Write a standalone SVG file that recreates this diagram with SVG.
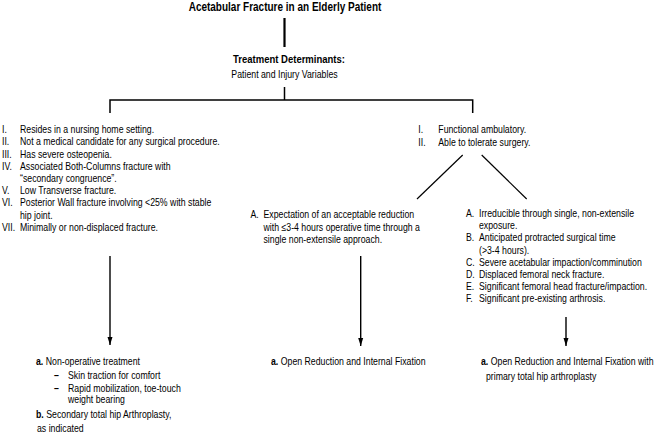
<svg xmlns="http://www.w3.org/2000/svg" width="656" height="442" viewBox="0 0 656 442">
<defs>
<style>
text{font-family:"Liberation Sans",Arial,sans-serif;font-size:10.67px;fill:#000}
.title{font-weight:bold;font-size:12.2px}
.hd{font-weight:bold;font-size:11.6px}
.b{font-weight:bold}
.dash{font-weight:bold}
.ln{stroke:#000;stroke-width:1.5;fill:none}
.dg{stroke:#000;stroke-width:1.2;fill:none}
.ar{stroke:#000;stroke-width:1.4;fill:none;marker-end:url(#ah)}
</style>
<marker id="ah" markerUnits="userSpaceOnUse" markerWidth="8" markerHeight="8" refX="4" refY="8" orient="0" viewBox="0 0 8 8">
<path d="M1.5,0 L6.5,0 L4,8 Z" fill="#000"/>
</marker>
</defs>
<rect width="656" height="442" fill="#fff"/>

<g id="connectors">
<line class="ln" x1="284.5" y1="18" x2="284.5" y2="47" style="stroke-width:2.2"/>
<line class="ln" x1="284.5" y1="87" x2="284.5" y2="100"/>
<path class="ln" d="M110,113 V100 H472.7 V113"/>
<line class="dg" x1="462.7" y1="155" x2="417" y2="199"/>
<line class="dg" x1="481.7" y1="155" x2="526.7" y2="199"/>
<line class="ar" x1="110" y1="256" x2="110" y2="345"/>
<line class="ar" x1="360.7" y1="256" x2="360.7" y2="346"/>
<line class="ar" x1="566" y1="317" x2="566" y2="346"/>
</g>

<g transform="scale(0.82,1)">
<g id="title">
<text class="title" x="347.56" y="10.5" text-anchor="middle">Acetabular Fracture in an Elderly Patient</text>
</g>

<g id="determinants">
<text class="hd" x="352.44" y="63" text-anchor="middle">Treatment Determinants:</text>
<text x="346.95" y="78.5" text-anchor="middle">Patient and Injury Variables</text>
</g>

<g id="left-criteria">
<text x="2.44" y="133.3">I.</text><text x="24.39" y="133.3">Resides in a nursing home setting.</text>
<text x="2.44" y="145.5">II.</text><text x="24.39" y="145.5">Not a medical candidate for any surgical procedure.</text>
<text x="2.44" y="157.7">III.</text><text x="24.39" y="157.7">Has severe osteopenia.</text>
<text x="2.44" y="169.9">IV.</text><text x="24.39" y="169.9">Associated Both-Columns fracture with</text>
<text x="24.39" y="182.1">“secondary congruence”.</text>
<text x="2.44" y="194.3">V.</text><text x="24.39" y="194.3">Low Transverse fracture.</text>
<text x="2.44" y="206.5">VI.</text><text x="24.39" y="206.5">Posterior Wall fracture involving &lt;25% with stable</text>
<text x="24.39" y="218.7">hip joint.</text>
<text x="2.44" y="230.9">VII.</text><text x="24.39" y="230.9">Minimally or non-displaced fracture.</text>
</g>

<g id="right-criteria">
<text x="510.12" y="133.3">I.</text><text x="534.51" y="133.3">Functional ambulatory.</text>
<text x="510.12" y="145.7">II.</text><text x="534.51" y="145.7">Able to tolerate surgery.</text>
</g>

<g id="mid-criteria">
<text x="305.49" y="218.3">A.</text><text x="321.34" y="218.3">Expectation of an acceptable reduction</text>
<text x="321.34" y="230.7">with ≤3-4 hours operative time through a</text>
<text x="321.34" y="243.1">single non-extensile approach.</text>
</g>

<g id="right-sub-criteria">
<text x="568.29" y="217.3">A.</text><text x="584.15" y="217.3">Irreducible through single, non-extensile</text>
<text x="584.15" y="229.4">exposure.</text>
<text x="568.29" y="241.5">B.</text><text x="584.15" y="241.5">Anticipated protracted surgical time</text>
<text x="584.15" y="253.6">(&gt;3-4 hours).</text>
<text x="568.29" y="265.7">C.</text><text x="584.15" y="265.7">Severe acetabular impaction/comminution</text>
<text x="568.29" y="277.8">D.</text><text x="584.15" y="277.8">Displaced femoral neck fracture.</text>
<text x="568.29" y="289.9">E.</text><text x="584.15" y="289.9">Significant femoral head fracture/impaction.</text>
<text x="568.29" y="302">F.</text><text x="584.15" y="302">Significant pre-existing arthrosis.</text>
</g>

<g id="left-outcome">
<text x="43.9" y="365"><tspan class="b">a.</tspan> Non-operative treatment</text>
<text class="dash" x="65.85" y="379.5">–</text><text x="82.93" y="379.5">Skin traction for comfort</text>
<text class="dash" x="65.85" y="391.6">–</text><text x="82.93" y="391.6">Rapid mobilization, toe-touch</text>
<text x="82.93" y="403">weight bearing</text>
<text x="43.9" y="418"><tspan class="b">b.</tspan> Secondary total hip Arthroplasty,</text>
<text x="45.12" y="432">as indicated</text>
</g>

<g id="mid-outcome">
<text x="330.49" y="365"><tspan class="b">a.</tspan> Open Reduction and Internal Fixation</text>
</g>

<g id="right-outcome">
<text x="586.59" y="365"><tspan class="b">a.</tspan> Open Reduction and Internal Fixation with</text>
<text x="592.68" y="380">primary total hip arthroplasty</text>
</g>
</g>
</svg>
